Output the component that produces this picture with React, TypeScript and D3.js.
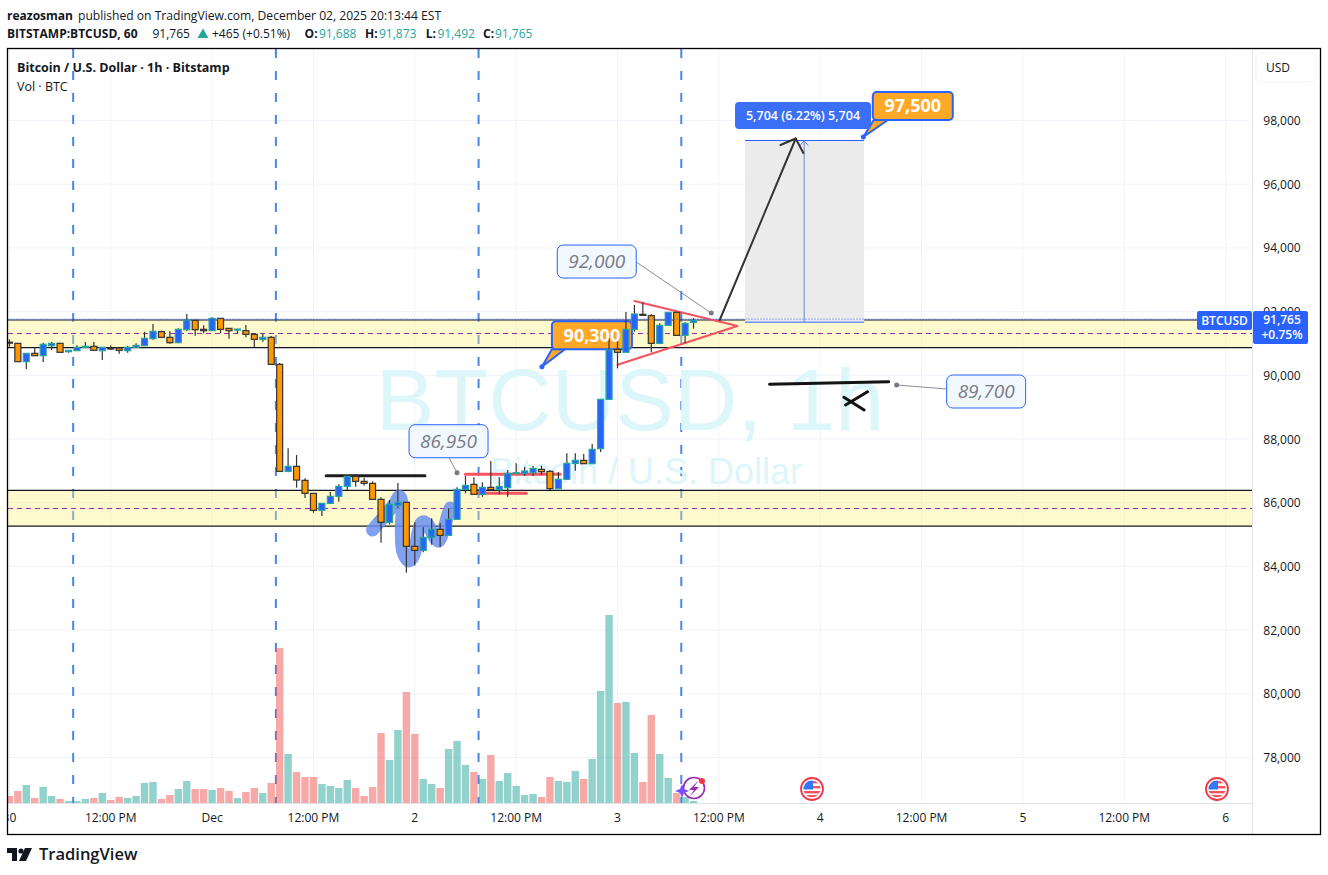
import * as d3 from 'd3';
import { useEffect, useRef } from 'react';

// hourly bars, bar 0 = Nov 30 00:00
const opens = [
  91040, 91003, 90428, 90689, 90616, 90930, 91003, 90742, 90773, 90888,
  90909, 90773, 90857, 90857, 90773, 90878, 90930, 91150, 91370, 91192,
  91024, 91432, 91726, 91443, 91401, 91788, 91474, 91432, 91401, 91286,
  91129, 91192, 90344, 86984, 87141, 86702, 86293, 85759, 85979, 86199,
  86513, 86827, 86670, 86607, 86105, 85383, 85916, 86011, 84629, 84503,
  84912, 85163, 84974, 85477, 86419, 86576, 86262, 86482, 86408, 86471,
  86921, 86921, 86942, 87047, 86984, 86440, 86733, 87235, 87329, 87225,
  87696, 89245, 90815, 90721, 91443, 91914, 91872, 91003, 91568, 91977,
  91254, 91663
];
const highs = [
  91129, 91003, 90689, 90867, 91024, 91045, 91003, 90784, 90940, 91045,
  91045, 90878, 90940, 90857, 90920, 91003, 91370, 91610, 91401, 91380,
  91474, 91924, 91726, 91568, 91820, 91788, 91474, 91453, 91579, 91317,
  91296, 91234, 90386, 87706, 87497, 86764, 86293, 85979, 86335, 86576,
  86827, 86900, 86785, 86670, 86168, 86084, 86618, 86011, 85383, 85226,
  85508, 85351, 85822, 86482, 86838, 86796, 86639, 87308, 86806, 87026,
  87235, 87131, 87151, 87162, 87026, 86963, 87549, 87549, 87528, 87842,
  89245, 91160, 91160, 91987, 92207, 92291, 91924, 91631, 91977, 91977,
  91663, 91799
];
const lows = [
  90899, 90428, 90197, 90616, 90417, 90794, 90721, 90710, 90773, 90888,
  90784, 90480, 90794, 90679, 90710, 90878, 90930, 91118, 91192, 90993,
  91024, 91391, 91244, 91317, 91401, 91317, 91150, 91317, 91192, 90878,
  91056, 90344, 86984, 86953, 86471, 86147, 85686, 85581, 85979, 86032,
  86398, 86503, 86534, 86105, 84744, 85320, 85843, 83802, 84032, 84441,
  84681, 84598, 84974, 85477, 86293, 86262, 86189, 86398, 86262, 86188,
  86900, 86848, 86837, 86869, 86398, 86440, 86712, 87005, 87225, 87225,
  87591, 89245, 90218, 90721, 91370, 91882, 90721, 90982, 91568, 91254,
  91003, 91464
];
const closes = [
  91010, 90428, 90689, 90616, 90972, 91003, 90721, 90784, 90878, 90909,
  90784, 90878, 90836, 90784, 90878, 90940, 91160, 91380, 91192, 91024,
  91443, 91736, 91432, 91401, 91788, 91443, 91401, 91453, 91286, 91129,
  91192, 90344, 86984, 87141, 86712, 86293, 85759, 85979, 86199, 86513,
  86827, 86670, 86607, 86105, 85383, 85948, 86011, 84629, 84503, 84912,
  85163, 84974, 85477, 86419, 86544, 86262, 86482, 86408, 86513, 86921,
  86942, 86994, 87078, 86974, 86440, 86733, 87235, 87329, 87225, 87675,
  89245, 90794, 90721, 91443, 91924, 91882, 91003, 91568, 91977, 91254,
  91631, 91725
];
const volumes = [
  22, 37, 55, 16, 49, 22, 13, 7, 7, 13,
  16, 31, 10, 19, 16, 22, 61, 64, 13, 25,
  43, 67, 43, 43, 40, 46, 37, 16, 34, 46,
  31, 61, 466, 148, 94, 79, 79, 58, 52, 46,
  70, 46, 22, 49, 211, 130, 220, 334, 208, 73,
  58, 46, 163, 187, 115, 94, 73, 145, 67, 91,
  52, 25, 28, 19, 79, 67, 64, 97, 73, 133,
  337, 565, 301, 304, 151, 64, 265, 148, 76, 31,
  19, 7
];

const priceTicks = [78000, 80000, 82000, 84000, 86000, 88000, 90000, 92000, 94000, 96000, 98000];
const timeTickBars = [0, 12, 24, 36, 48, 60, 72, 84, 96, 108, 120, 132, 144];
const timeTickLabels = ['30', '12:00 PM', 'Dec', '12:00 PM', '2', '12:00 PM', '3', '12:00 PM', '4', '12:00 PM', '5', '12:00 PM', '6'];
const sessionBars = [7.55, 31.55, 55.55, 79.55];

// [top, bottom, mid]
const zones = [
  [91736, 90872, 91315],
  [86388, 85267, 85823]
];

// drawings, as [bar, price]
const blackLevel = [[37.5, 86847], [49.2, 86847]];
const redHigh = [[54, 86891], [65.2, 86891]];
const redLow = [[54.9, 86294], [61.2, 86294]];
const triangle = [[74, 92332], [86.2, 91547], [72, 90332]];
const arrowShaft = [[84.1, 91736], [93.1, 97435]];
const arrowHead = [[91.3, 97231], [93.1, 97435], [94, 96980]];
const penLine = [[90, 89717], [104.1, 89798]];
const penCrossA = [[99, 89067], [101.6, 89484]];
const penCrossB = [[98.8, 89308], [101.2, 88910]];
const smear = [
  [43, 85142], [44.1, 85487], [45.5, 85927], [46.2, 86200], [46.5, 85927], [46.4, 85142],
  [46.6, 84451], [47.3, 84169], [47.9, 84357], [48.4, 85079], [48.9, 85393], [49.6, 85299],
  [50.2, 84953], [50.8, 84796], [51.4, 85142], [51.9, 85613], [52.2, 85833]
];
const longBars = [87.1, 94.1, 101.2];
const longEntry = 91668;
const longTarget = 97372;

const noteBars = [83.1, 105.05, 53];
const notePrices = [91955, 89695, 86941];
const noteLabels = ['92,000', '89,700', '86,950'];
const calloutBars = [101.1, 63.05];
const calloutPrices = [97482, 90269];
const calloutLabels = ['97,500', '90,300'];

const lastPrice = 91765;

const FONT = '"Open Sans", sans-serif';
const UP = '#2962ff';
const DOWN = '#ff9800';

const App = () => {
  const ref = useRef<SVGSVGElement | null>(null);

  useEffect(() => {
    if (!ref.current) return;
    const svg = d3.select(ref.current);
    svg.selectAll('*').remove();

    const left = 7.5;
    const right = 1252.5;
    const top = 48.5;
    const bottom = 834.5;
    const axisY = 803.5;

    const x = d3.scaleLinear().domain([0, 100]).range([9.4, 854]);
    const y = d3.scaleLinear().domain([78000, 98000]).range([757.5, 120.5]);
    const yVol = d3.scaleLinear().domain([0, 565]).range([803.3, 615]);
    const line = d3.line<number[]>().x(d => x(d[0])).y(d => y(d[1]));

    svg
      .append('rect')
      .attr('width', 1328)
      .attr('height', 875)
      .attr('fill', '#fff');

    svg
      .append('clipPath')
      .attr('id', 'plot')
      .append('rect')
      .attr('x', left)
      .attr('y', top)
      .attr('width', right - left)
      .attr('height', bottom - top);

    const plot = svg.append('g').attr('clip-path', 'url(#plot)');

    // grid
    plot
      .selectAll('.hgrid')
      .data(priceTicks)
      .enter()
      .append('line')
      .attr('x1', left)
      .attr('x2', right)
      .attr('y1', d => y(d))
      .attr('y2', d => y(d))
      .attr('stroke', '#f0f3fa');
    plot
      .selectAll('.vgrid')
      .data(timeTickBars)
      .enter()
      .append('line')
      .attr('x1', d => x(d))
      .attr('x2', d => x(d))
      .attr('y1', top)
      .attr('y2', axisY)
      .attr('stroke', '#f0f3fa');

    // session separators
    plot
      .selectAll('.session')
      .data(sessionBars)
      .enter()
      .append('line')
      .attr('x1', d => x(d))
      .attr('x2', d => x(d))
      .attr('y1', 49)
      .attr('y2', axisY)
      .attr('stroke', '#4a86e8')
      .attr('stroke-width', 2)
      .attr('stroke-dasharray', '9 13');

    // watermark
    plot
      .append('text')
      .attr('x', 630)
      .attr('y', 430)
      .attr('text-anchor', 'middle')
      .attr('font-family', '"Liberation Sans", sans-serif')
      .attr('font-size', 88)
      .attr('fill', '#dcf6fa')
      .text('BTCUSD, 1h');
    plot
      .append('text')
      .attr('x', 646)
      .attr('y', 484)
      .attr('text-anchor', 'middle')
      .attr('font-family', '"Liberation Sans", sans-serif')
      .attr('font-size', 36)
      .attr('fill', '#dcf6fa')
      .text('Bitcoin / U.S. Dollar');

    // zones
    zones.forEach(z => {
      plot
        .append('rect')
        .attr('x', left)
        .attr('width', right - left)
        .attr('y', y(z[0]))
        .attr('height', y(z[1]) - y(z[0]))
        .attr('fill', '#fff176')
        .attr('fill-opacity', 0.36);
      [z[0], z[1]].forEach(p => {
        plot
          .append('line')
          .attr('x1', left)
          .attr('x2', right)
          .attr('y1', y(p))
          .attr('y2', y(p))
          .attr('stroke', '#131722')
          .attr('stroke-width', 1.2);
      });
      plot
        .append('line')
        .attr('x1', left)
        .attr('x2', right)
        .attr('y1', y(z[2]))
        .attr('y2', y(z[2]))
        .attr('stroke', '#9c27b0')
        .attr('shape-rendering', 'crispEdges')
        .attr('stroke-dasharray', '5 4');
    });

    // volume
    plot
      .selectAll('.vol')
      .data(volumes)
      .enter()
      .append('rect')
      .attr('x', (_, i) => x(i) - 3.7)
      .attr('y', d => yVol(d))
      .attr('width', 7.4)
      .attr('height', d => yVol(0) - yVol(d))
      .attr('fill', (_, i) => (closes[i] >= opens[i] ? '#26a69a' : '#ef5350'))
      .attr('fill-opacity', 0.5);

    // long position tool
    plot
      .append('rect')
      .attr('x', x(longBars[0]))
      .attr('width', x(longBars[2]) - x(longBars[0]))
      .attr('y', y(longTarget))
      .attr('height', y(longEntry) - y(longTarget))
      .attr('fill', '#ebebeb');
    [longTarget, longEntry].forEach(p => {
      plot
        .append('line')
        .attr('x1', x(longBars[0]))
        .attr('x2', x(longBars[2]))
        .attr('y1', y(p))
        .attr('y2', y(p))
        .attr('stroke', UP);
    });
    plot
      .append('line')
      .attr('x1', x(longBars[1]))
      .attr('x2', x(longBars[1]))
      .attr('y1', y(longTarget))
      .attr('y2', y(longEntry))
      .attr('stroke', '#6b86c9');
    plot
      .append('path')
      .attr('d', `M${x(longBars[1]) - 4},${y(longTarget) + 5}L${x(longBars[1])},${y(longTarget)}L${x(longBars[1]) + 4},${y(longTarget) + 5}`)
      .attr('fill', 'none')
      .attr('stroke', '#6b86c9');

    // drawings
    plot
      .append('path')
      .attr('d', d3.line<number[]>().x(d => x(d[0])).y(d => y(d[1])).curve(d3.curveCatmullRom)(smear))
      .attr('fill', 'none')
      .attr('stroke', '#6a8ff0')
      .attr('stroke-opacity', 0.85)
      .attr('stroke-width', 13)
      .attr('stroke-linecap', 'round')
      .attr('stroke-linejoin', 'round');

    const stroke = (pts: number[][], color: string, w: number) =>
      plot
        .append('path')
        .attr('d', line(pts))
        .attr('fill', 'none')
        .attr('stroke', color)
        .attr('stroke-width', w)
        .attr('stroke-linecap', 'round')
        .attr('stroke-linejoin', 'round');

    stroke(blackLevel, '#1e1e1e', 3);
    stroke(redHigh, '#f7525f', 3);
    stroke(redLow, '#f7525f', 3);
    stroke(triangle, '#f7525f', 2);
    stroke(arrowShaft, '#333', 2);
    stroke(arrowHead, '#333', 2);
    stroke(penLine, '#131313', 3);
    stroke(penCrossA, '#131313', 3);
    stroke(penCrossB, '#131313', 3);

    // grey notes with leader line
    const noteBoxes = [
      { dx: -154, dy: -68 },
      { dx: 50, dy: -10 },
      { dx: -48, dy: -48 }
    ];
    const noteJoins = [
      { jx: 79, jy: 17 },
      { jx: 0, jy: 14 },
      { jx: 40, jy: 33 }
    ];
    noteLabels.forEach((label, i) => {
      const px = x(noteBars[i]);
      const py = y(notePrices[i]);
      const bx = px + noteBoxes[i].dx;
      const by = py + noteBoxes[i].dy;
      plot
        .append('line')
        .attr('x1', px)
        .attr('y1', py)
        .attr('x2', bx + noteJoins[i].jx)
        .attr('y2', by + noteJoins[i].jy)
        .attr('stroke', '#8a8d96');
      plot
        .append('circle')
        .attr('cx', px)
        .attr('cy', py)
        .attr('r', 2.5)
        .attr('fill', '#787b86');
      plot
        .append('rect')
        .attr('x', bx)
        .attr('y', by)
        .attr('width', 79)
        .attr('height', 33)
        .attr('rx', 6)
        .attr('fill', '#f1f8fe')
        .attr('stroke', UP);
      plot
        .append('text')
        .attr('x', bx + 39.5)
        .attr('y', by + 23)
        .attr('text-anchor', 'middle')
        .attr('font-family', FONT)
        .attr('font-style', 'italic')
        .attr('font-size', 19)
        .attr('fill', '#787b86')
        .text(label);
    });

    // orange callouts
    const calloutBoxes = [
      { dx: 9.5, dy: -45, tail: [1, 15] },
      { dx: 10, dy: -45.5, tail: [0, 13] }
    ];
    calloutLabels.forEach((_, i) => {
      const px = x(calloutBars[i]);
      const py = y(calloutPrices[i]);
      const bx = px + calloutBoxes[i].dx;
      const by = py + calloutBoxes[i].dy;
      const t = calloutBoxes[i].tail;
      plot
        .append('path')
        .attr('d', `M${px},${py}L${bx + t[0]},${by + 28}L${bx + t[1]},${by + 28}Z`)
        .attr('fill', '#ffa726')
        .attr('stroke', UP)
        .attr('stroke-width', 2);
      plot
        .append('circle')
        .attr('cx', px)
        .attr('cy', py)
        .attr('r', 2.5)
        .attr('fill', UP);
      plot
        .append('rect')
        .attr('x', bx)
        .attr('y', by)
        .attr('width', 80)
        .attr('height', 28)
        .attr('rx', 4)
        .attr('fill', '#ffa726')
        .attr('stroke', UP)
        .attr('stroke-width', 2);
    });

    // candles
    const bars = plot
      .selectAll('.bar')
      .data(opens)
      .enter()
      .append('g');
    bars
      .append('line')
      .attr('x1', (_, i) => x(i))
      .attr('x2', (_, i) => x(i))
      .attr('y1', (_, i) => y(highs[i]))
      .attr('y2', (_, i) => y(lows[i]))
      .attr('stroke', '#333')
      .attr('stroke-width', 1.2);
    bars
      .append('rect')
      .attr('x', (_, i) => x(i) - 3)
      .attr('width', 6)
      .attr('y', (d, i) => y(Math.max(d, closes[i])))
      .attr('height', (d, i) => Math.max(Math.abs(y(d) - y(closes[i])), 1))
      .attr('fill', (d, i) => (closes[i] >= d ? UP : DOWN))
      .attr('stroke', (d, i) => (closes[i] >= d ? '#26a69a' : '#333'))
      .attr('stroke-width', 1.2);

    // callout text sits on top of the bars
    calloutLabels.forEach((label, i) => {
      const bx = x(calloutBars[i]) + calloutBoxes[i].dx;
      const by = y(calloutPrices[i]) + calloutBoxes[i].dy;
      plot
        .append('text')
        .attr('x', bx + 40)
        .attr('y', by + 20.5)
        .attr('text-anchor', 'middle')
        .attr('font-family', FONT)
        .attr('font-weight', 700)
        .attr('font-size', 18)
        .attr('fill', '#fff')
        .text(label);
    });

    // long tool label
    plot
      .append('rect')
      .attr('x', 735)
      .attr('y', 102)
      .attr('width', 136)
      .attr('height', 27)
      .attr('rx', 4)
      .attr('fill', '#3b6ff5');
    plot
      .append('text')
      .attr('x', 803)
      .attr('y', 120)
      .attr('text-anchor', 'middle')
      .attr('font-family', FONT)
      .attr('font-weight', 600)
      .attr('font-size', 12.5)
      .attr('fill', '#fff')
      .text('5,704 (6.22%) 5,704');

    // last price line
    plot
      .append('line')
      .attr('x1', left)
      .attr('x2', right)
      .attr('y1', y(lastPrice))
      .attr('y2', y(lastPrice))
      .attr('stroke', UP)
      .attr('stroke-dasharray', '1 2');

    // event icons
    const bolt = svg.append('g').attr('transform', 'translate(694,788)');
    bolt.append('circle').attr('r', 10.5).attr('fill', '#fff').attr('fill-opacity', 0.6).attr('stroke', '#9c27b0').attr('stroke-width', 1.6);
    bolt.append('path').attr('d', 'M5,-8L-5,2L0,2L-4,8L5,-1L0,-1Z').attr('fill', '#9c27b0');
    bolt.append('circle').attr('cx', 8).attr('cy', -7).attr('r', 3).attr('fill', '#f23645');
    svg
      .append('path')
      .attr('d', 'M682,784L684,789L689,791L684,793L682,798L680,793L675,791L680,789Z')
      .attr('fill', '#7c4dff');

    [812, 1217].forEach(cx => {
      const g = svg.append('g').attr('transform', `translate(${cx},789)`);
      g.append('clipPath').attr('id', `flag${cx}`).append('circle').attr('r', 8.5);
      const f = g.append('g').attr('clip-path', `url(#flag${cx})`);
      f.append('rect').attr('x', -9).attr('y', -9).attr('width', 18).attr('height', 18).attr('fill', '#fff');
      [-8, -3, 2, 6].forEach(s => {
        f.append('rect').attr('x', -9).attr('y', s).attr('width', 18).attr('height', 2.4).attr('fill', '#f7525f');
      });
      f.append('rect').attr('x', -9).attr('y', -9).attr('width', 10).attr('height', 9.5).attr('fill', '#3179f5');
      g.append('circle').attr('r', 11).attr('fill', 'none').attr('stroke', '#f23645').attr('stroke-width', 1.8);
    });

    // time axis
    svg
      .selectAll('.tlabel')
      .data(timeTickBars)
      .enter()
      .filter(d => x(d) < right - 10)
      .append('text')
      .attr('x', d => x(d))
      .attr('y', 822)
      .attr('text-anchor', 'middle')
      .attr('clip-path', 'url(#plot)')
      .attr('font-family', FONT)
      .attr('font-size', 12)
      .attr('fill', '#131722')
      .text((_, i) => timeTickLabels[i]);

    svg
      .append('line')
      .attr('x1', left)
      .attr('x2', right)
      .attr('y1', axisY)
      .attr('y2', axisY)
      .attr('stroke', '#e0e3eb');
    svg
      .append('line')
      .attr('x1', right)
      .attr('x2', right)
      .attr('y1', top)
      .attr('y2', bottom)
      .attr('stroke', '#e0e3eb');

    // price axis
    svg
      .selectAll('.plabel')
      .data(priceTicks)
      .enter()
      .append('text')
      .attr('x', 1282)
      .attr('y', d => y(d) + 4.5)
      .attr('text-anchor', 'middle')
      .attr('font-family', FONT)
      .attr('font-size', 12)
      .attr('fill', '#131722')
      .text(d => d3.format(',')(d));

    // last price labels
    svg
      .append('rect')
      .attr('x', 1197)
      .attr('y', 311)
      .attr('width', 55)
      .attr('height', 19)
      .attr('rx', 2)
      .attr('fill', UP);
    svg
      .append('text')
      .attr('x', 1224.5)
      .attr('y', 325)
      .attr('text-anchor', 'middle')
      .attr('font-family', FONT)
      .attr('font-weight', 600)
      .attr('font-size', 12)
      .attr('fill', '#fff')
      .text('BTCUSD');
    svg
      .append('rect')
      .attr('x', 1253)
      .attr('y', 311)
      .attr('width', 55)
      .attr('height', 33)
      .attr('rx', 2)
      .attr('fill', UP);
    svg
      .append('text')
      .attr('x', 1282)
      .attr('y', 324)
      .attr('text-anchor', 'middle')
      .attr('font-family', FONT)
      .attr('font-weight', 600)
      .attr('font-size', 12)
      .attr('fill', '#fff')
      .text(d3.format(',')(lastPrice));
    svg
      .append('text')
      .attr('x', 1282)
      .attr('y', 339)
      .attr('text-anchor', 'middle')
      .attr('font-family', FONT)
      .attr('font-weight', 600)
      .attr('font-size', 12)
      .attr('fill', '#fff')
      .text('+0.75%');

    // currency button
    svg
      .append('rect')
      .attr('x', 1256)
      .attr('y', 53)
      .attr('width', 60)
      .attr('height', 29)
      .attr('rx', 5)
      .attr('fill', '#fff')
      .attr('stroke', '#f0f3fa');
    svg
      .append('text')
      .attr('x', 1278)
      .attr('y', 72)
      .attr('text-anchor', 'middle')
      .attr('font-family', FONT)
      .attr('font-size', 12)
      .attr('fill', '#131722')
      .text('USD');

    // frame
    svg
      .append('rect')
      .attr('x', left)
      .attr('y', top)
      .attr('width', 1313)
      .attr('height', bottom - top)
      .attr('fill', 'none')
      .attr('stroke', '#000')
      .attr('stroke-width', 1.3);

    // headers
    const label = (tx: number, ty: number, s: string, size: number, weight: number, color: string) =>
      svg
        .append('text')
        .attr('x', tx)
        .attr('y', ty)
        .attr('font-family', FONT)
        .attr('font-size', size)
        .attr('font-weight', weight)
        .attr('fill', color)
        .text(s);

    label(7, 20, 'reazosman', 12, 700, '#131722');
    label(78, 20, 'published on TradingView.com, December 02, 2025 20:13:44 EST', 12.1, 400, '#131722');
    label(7, 38, 'BITSTAMP:BTCUSD, 60', 12, 700, '#131722');
    label(152.5, 38, '91,765', 12, 400, '#131722');
    label(212, 38, '+465 (+0.51%)', 12, 400, '#131722');
    label(304.6, 38, 'O:', 12, 700, '#131722');
    label(319, 38, '91,688', 12, 400, '#26a69a');
    label(365, 38, 'H:', 12, 700, '#131722');
    label(379, 38, '91,873', 12, 400, '#26a69a');
    label(425.7, 38, 'L:', 12, 700, '#131722');
    label(437.5, 38, '91,492', 12, 400, '#26a69a');
    label(483, 38, 'C:', 12, 700, '#131722');
    label(495, 38, '91,765', 12, 400, '#26a69a');
    svg.append('path').attr('d', 'M197.5,38L203,28.5L208.5,38Z').attr('fill', '#26a69a');

    label(17, 72, 'Bitcoin / U.S. Dollar · 1h · Bitstamp', 12.5, 700, '#131722');
    label(17, 91, 'Vol · BTC', 12.5, 400, '#131722');

    // logo
    svg.append('path').attr('d', 'M7,848H17V861H12V853H7Z').attr('fill', '#131722');
    svg.append('circle').attr('cx', 21).attr('cy', 851).attr('r', 2.6).attr('fill', '#131722');
    svg.append('path').attr('d', 'M25,848H32L26,861H19Z').attr('fill', '#131722');
    label(39, 860, 'TradingView', 16.5, 600, '#131722');
  }, []);

  return (
    <svg
      ref={ref}
      width={1328}
      height={875}
      style={{ position: 'absolute', left: 0, top: 0 }}
    />
  );
};

export default App;
